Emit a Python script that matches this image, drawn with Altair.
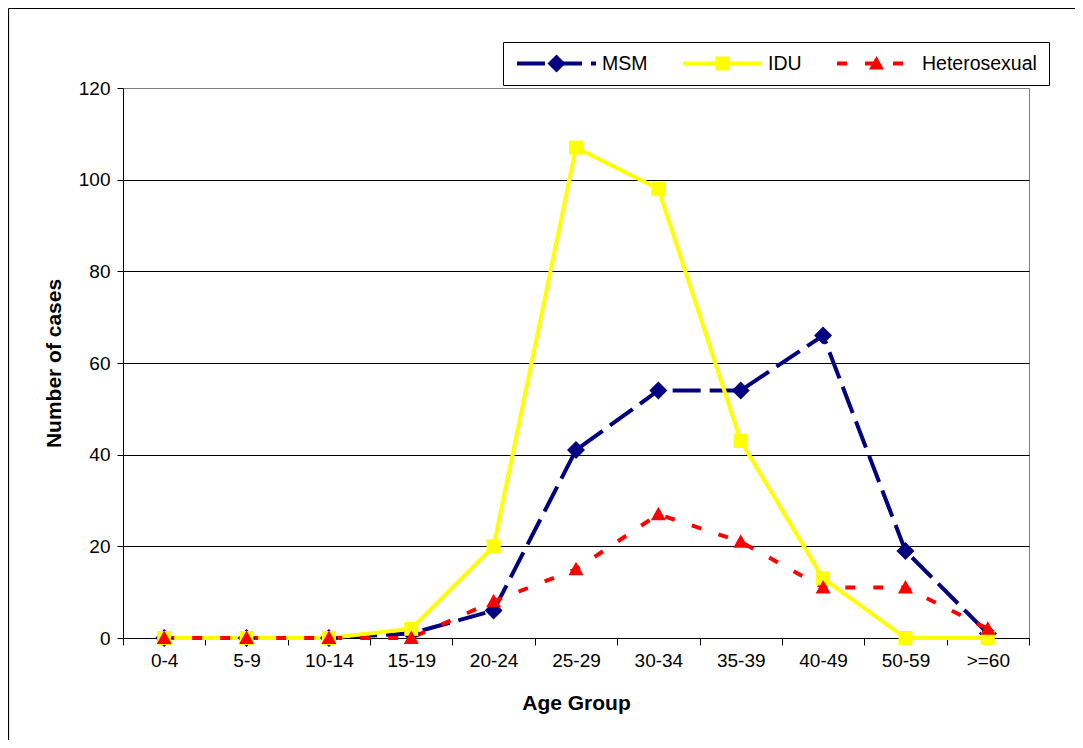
import json
import altair as alt
import pandas as pd

# ---- data ----
ages = ["0-4", "5-9", "10-14", "15-19", "20-24", "25-29", "30-34", "35-39", "40-49", "50-59", ">=60"]
msm = [0, 0, 0, 1, 6, 41, 54, 54, 66, 19, 1]
idu = [0, 0, 0, 2, 20, 107, 98, 43, 13, 0, 0]
hetero = [0, 0, 0, 0, 8, 15, 27, 21, 11, 11, 2]
series_names = ["MSM", "IDU", "Heterosexual"]
series_colors = ["#000080", "#FFFF00", "#FF0000"]
series_dashes = [[28, 9], [1, 0], [10, 18]]
y_ticks = [0, 20, 40, 60, 80, 100, 120]

rows = []
for name, vals in zip(series_names, [msm, idu, hetero]):
    for i, (a, v) in enumerate(zip(ages, vals)):
        rows.append({"idx": i, "Age": a, "Group": name, "Cases": v})
df = pd.DataFrame(rows)

# ---- layout ----
PW, PH = 906, 550
FONT = "Liberation Sans"
SYM = 6241  # legend / marker symbol area
r = (SYM ** 0.5) / 2.0


def p(v):
    return round(v / r, 4)


shape_paths = [
    f"M0,{-p(9)}L{p(9)},0L0,{p(9)}L{-p(9)},0Z",
    f"M{-p(7)},{-p(7)}H{p(7)}V{p(7)}H{-p(7)}Z",
    f"M0,{-p(7.5)}L{p(7.5)},{p(6)}H{-p(7.5)}Z",
]

band = PW / len(ages)
x_tick_vals = [i - 0.5 for i in range(len(ages) + 1)]
label_expr = f"({json.dumps(ages)})[datum.value + 0.5] || ''"

x_enc = alt.X(
    "idx:Q",
    scale=alt.Scale(domain=[-0.5, len(ages) - 0.5], nice=False, zero=False),
    axis=alt.Axis(
        title="Age Group",
        values=x_tick_vals,
        labelExpr=label_expr,
        labelOffset=band / 2,
        labelFlush=False,
        labelOverlap=False,
        grid=False,
        tickSize=7,
        labelPadding=6,
        labelBaseline="top",
        titleX=PW / 2,
        titleY=71,
        titleBaseline="alphabetic",
    ),
)
y_enc = alt.Y(
    "Cases:Q",
    scale=alt.Scale(domain=[0, 120], nice=False),
    axis=alt.Axis(
        title="Number of cases",
        values=y_ticks,
        tickSize=6,
        labelPadding=7,
        grid=True,
        gridColor={"condition": {"test": "datum.value === 120", "value": "#808080"}, "value": "#000000"},
        titleX=-63,
        titleY=PH / 2,
        titleBaseline="alphabetic",
    ),
)

common_legend = dict(
    orient="none",
    legendX=380,
    legendY=-46,
    direction="horizontal",
    title=None,
    values=series_names,
    symbolSize=SYM,
    symbolStrokeWidth=4,
    clipHeight=19,
    padding=12,
    labelOffset=4,
    columnPadding=33,
    labelFont=FONT,
    labelFontSize=19.5,
    labelLimit=400,
    labelColor="#000000",
)

line_legend = alt.Legend(
    symbolType="stroke",
    strokeColor="#000000",
    fillColor="#ffffff",
    **common_legend,
)
point_legend = alt.Legend(
    labelOpacity=0,
    symbolStrokeColor="transparent",
    symbolOpacity=1,
    **common_legend,
)

# the marker layer gets an extra, unused domain entry so that its legend
# stays separate from the line legend and can be laid on top of it
pt_domain = series_names + ["~"]

base = alt.Chart(df)

lines = base.mark_line(strokeWidth=4).encode(
    x=x_enc,
    y=y_enc,
    color=alt.Color("Group:N",
                    scale=alt.Scale(domain=series_names, range=series_colors), legend=line_legend),
    strokeDash=alt.StrokeDash("Group:N",
                              scale=alt.Scale(domain=series_names, range=series_dashes), legend=line_legend),
)

points = base.transform_calculate(Group2="datum.Group").mark_point(
    filled=True, size=SYM, opacity=1, strokeWidth=0
).encode(
    x=x_enc,
    y=y_enc,
    fill=alt.Fill("Group2:N",
                  scale=alt.Scale(domain=pt_domain, range=series_colors + ["#ffffff"]),
                  legend=point_legend),
    shape=alt.Shape("Group2:N",
                    scale=alt.Scale(domain=pt_domain, range=shape_paths + ["circle"]),
                    legend=point_legend),
)

# outer chart frame: only its left and top edges fall inside the picture
frame_data = pd.DataFrame({"a": [0]})
frame_left = alt.Chart(frame_data).mark_rule(color="#000000", strokeWidth=1.2).encode(
    x=alt.value(-114.5), y=alt.value(-79.5), y2=alt.value(PH + 110)
)
frame_top = alt.Chart(frame_data).mark_rule(color="#000000", strokeWidth=1.2).encode(
    x=alt.value(-114.5), x2=alt.value(PW + 60), y=alt.value(-79.5)
)

chart = alt.layer(frame_left, frame_top, lines, points).properties(
    width=PW,
    height=PH,
    padding={"left": 115, "top": 80, "right": 46, "bottom": 102},
    autosize=alt.AutoSizeParams(type="none"),
    background="#ffffff",
).configure_view(
    stroke="#808080", strokeWidth=1
).configure_axis(
    domainColor="#000000",
    tickColor="#000000",
    labelColor="#000000",
    titleColor="#000000",
    labelFont=FONT,
    labelFontSize=19,
    titleFont=FONT,
    titleFontSize=21,
    titleFontWeight="bold",
)

chart.save("out.html", embed_options={"renderer": "svg", "actions": False})
